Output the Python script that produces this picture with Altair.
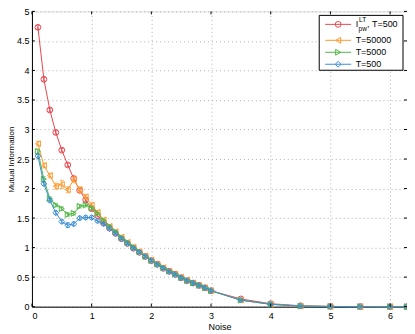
import altair as alt
import pandas as pd

# ---- data ----
noise = [0.1, 0.2, 0.3, 0.4, 0.5, 0.6, 0.7, 0.8, 0.9, 1.0,
         1.1, 1.2, 1.3, 1.4, 1.5, 1.6, 1.7, 1.8, 1.9, 2.0,
         2.1, 2.2, 2.3, 2.4, 2.5, 2.6, 2.7, 2.8, 2.9, 3.0,
         3.5, 4.0, 4.5, 5.0, 5.5, 6.0, 6.28]

mi_pw_lt = [4.73, 3.85, 3.33, 2.95, 2.65, 2.40, 2.17, 1.97, 1.81, 1.66,
            1.54, 1.42, 1.33, 1.24, 1.15, 1.07, 0.99, 0.92, 0.85, 0.78,
            0.72, 0.65, 0.60, 0.55, 0.49, 0.44, 0.40, 0.36, 0.32, 0.27,
            0.13, 0.05, 0.015, 0.004, 0.001, 0.0, 0.0]
mi_50000 = [2.76, 2.39, 2.22, 2.04, 2.07, 1.98, 2.15, 1.98, 1.86, 1.72,
            1.60, 1.47, 1.36, 1.27, 1.18, 1.09, 1.01, 0.93, 0.86, 0.79,
            0.72, 0.66, 0.60, 0.55, 0.50, 0.45, 0.40, 0.36, 0.32, 0.27,
            0.11, 0.04, 0.01, 0.003, 0.001, 0.0, 0.0]
mi_5000 = [2.63, 2.16, 1.83, 1.72, 1.66, 1.56, 1.58, 1.70, 1.72, 1.67,
           1.58, 1.46, 1.36, 1.27, 1.17, 1.09, 1.01, 0.93, 0.85, 0.78,
           0.72, 0.66, 0.60, 0.55, 0.49, 0.44, 0.40, 0.36, 0.32, 0.27,
           0.11, 0.04, 0.01, 0.003, 0.001, 0.0, 0.0]
mi_500 = [2.55, 2.08, 1.80, 1.59, 1.44, 1.38, 1.40, 1.50, 1.51, 1.51,
          1.45, 1.40, 1.32, 1.24, 1.15, 1.07, 0.99, 0.92, 0.85, 0.78,
          0.71, 0.65, 0.59, 0.54, 0.49, 0.44, 0.40, 0.36, 0.32, 0.27,
          0.11, 0.04, 0.01, 0.003, 0.001, 0.0, 0.0]

err_pw_lt = [0.03] * 10 + [0.02] * 20 + [0.01] * 7
err_50000 = [0.04, 0.04, 0.04, 0.05, 0.07, 0.05, 0.05, 0.05, 0.04, 0.04] + [0.03] * 20 + [0.01] * 7
err_5000 = [0.04, 0.04, 0.03, 0.03, 0.03, 0.03, 0.03, 0.03, 0.03, 0.03] + [0.02] * 20 + [0.01] * 7
err_500 = [0.03, 0.03, 0.03, 0.03, 0.03, 0.04, 0.03, 0.03, 0.03, 0.03] + [0.02] * 20 + [0.01] * 7

series_names = ["pw_lt", "T=50000", "T=5000", "T=500"]
series_colors = ["#e8474f", "#ff9a2e", "#52b848", "#3a8fd6"]
series_shapes = ["circle", "triangle-left", "triangle-right", "diamond"]
series_values = [mi_pw_lt, mi_50000, mi_5000, mi_500]
series_errs = [err_pw_lt, err_50000, err_5000, err_500]

x_ticks = [0, 1, 2, 3, 4, 5, 6]
y_ticks = [0, 0.5, 1, 1.5, 2, 2.5, 3, 3.5, 4, 4.5, 5]

rows = []
for name, vals, errs in zip(series_names, series_values, series_errs):
    for xv, yv, ev in zip(noise, vals, errs):
        rows.append({"noise": xv, "mi": yv, "lo": max(yv - ev, 0), "hi": yv + ev, "series": name})
df = pd.DataFrame(rows)

W, H = 376, 296
FONT = "Liberation Sans"

xscale = alt.Scale(domain=[0, 6.283], nice=False, zero=False)
yscale = alt.Scale(domain=[0, 5], nice=False)
cscale = alt.Scale(domain=series_names, range=series_colors)
sscale = alt.Scale(domain=series_names, range=series_shapes)

xaxis = alt.Axis(values=x_ticks, title="Noise", grid=True, gridDash=[1, 3], gridColor="#b0b0b0",
                 tickSize=0, labelPadding=5, labelFontSize=9, titleFontSize=9, titleFontWeight="normal",
                 labelColor="black", titleColor="black", domainColor="black", titleY=16, format="~g",
                 labelOverlap=False, labelFont=FONT, titleFont=FONT)
yaxis = alt.Axis(values=y_ticks, title="Mutual Information", grid=True, gridDash=[1, 3], gridColor="#b0b0b0",
                 tickSize=0, labelPadding=3, labelFontSize=9, titleFontSize=8, titleFontWeight="normal",
                 labelColor="black", titleColor="black", domainColor="black", titleX=-16, format="~g",
                 labelOverlap=False, labelFont=FONT, titleFont=FONT)


def X(field):
    return alt.X(field, scale=xscale, axis=xaxis)


def Y(field):
    return alt.Y(field, scale=yscale, axis=yaxis)


base = alt.Chart(df)
col = alt.Color("series:N", scale=cscale, legend=None)
order = alt.Order("noise:Q")

layers = []
for name in series_names:
    sub = base.transform_filter(alt.datum.series == name)
    layers.append(sub.mark_line(strokeWidth=1).encode(
        x=X("noise:Q"), y=Y("mi:Q"), order=order, color=col))
    layers.append(sub.mark_rule(strokeWidth=1).encode(
        x=X("noise:Q"), y=Y("lo:Q"), y2="hi:Q", color=col))
    layers.append(sub.mark_tick(thickness=1, size=4, orient="horizontal").encode(
        x=X("noise:Q"), y=Y("lo:Q"), color=col))
    layers.append(sub.mark_tick(thickness=1, size=4, orient="horizontal").encode(
        x=X("noise:Q"), y=Y("hi:Q"), color=col))
    layers.append(sub.mark_point(filled=False, size=34, strokeWidth=1, opacity=1).encode(
        x=X("noise:Q"), y=Y("mi:Q"), color=col,
        shape=alt.Shape("series:N", scale=sscale, legend=None)))

# inward axis ticks (box style)
xt = alt.Chart(pd.DataFrame({"t": x_ticks}))
yt = alt.Chart(pd.DataFrame({"t": y_ticks}))
layers.append(xt.mark_rule(color="black", strokeWidth=1).encode(
    x=X("t:Q"), y=alt.value(H), y2=alt.value(H - 3)))
layers.append(xt.mark_rule(color="black", strokeWidth=1).encode(
    x=X("t:Q"), y=alt.value(0), y2=alt.value(3)))
layers.append(yt.mark_rule(color="black", strokeWidth=1).encode(
    y=Y("t:Q"), x=alt.value(0), x2=alt.value(3)))
layers.append(yt.mark_rule(color="black", strokeWidth=1).encode(
    y=Y("t:Q"), x=alt.value(W), x2=alt.value(W - 3)))

# ---- custom legend ----
one = alt.Chart(pd.DataFrame({"a": [0]}))
LX0, LX1, LY0, LY1 = 288, 372, 4, 59
layers.append(one.mark_rect(fill="white", stroke="black", strokeWidth=1).encode(
    x=alt.value(LX0), x2=alt.value(LX1), y=alt.value(LY0), y2=alt.value(LY1)))
row_y = [13, 29, 41, 53]
row_text = [None, "T=50000", "T=5000", "T=500"]
for ry, c, shp, txt in zip(row_y, series_colors, series_shapes, row_text):
    layers.append(one.mark_rule(color=c, strokeWidth=1).encode(
        x=alt.value(294), x2=alt.value(320), y=alt.value(ry)))
    layers.append(one.mark_point(filled=False, size=34, strokeWidth=1, color=c, shape=shp, opacity=1).encode(
        x=alt.value(307), y=alt.value(ry)))
    if txt:
        layers.append(one.mark_text(text=txt, font=FONT, fontSize=9, align="left", baseline="middle",
                                    color="black").encode(x=alt.value(324.5), y=alt.value(ry)))
# first label: I with superscript LT and subscript pw, then ", T=500"
layers.append(one.mark_text(text="I", font=FONT, fontSize=9, align="left", baseline="middle",
                            color="black").encode(x=alt.value(324.5), y=alt.value(row_y[0])))
layers.append(one.mark_text(text="LT", font=FONT, fontSize=6.5, align="left", baseline="middle",
                            color="black").encode(x=alt.value(328), y=alt.value(row_y[0] - 4)))
layers.append(one.mark_text(text="pw", font=FONT, fontSize=6.5, align="left", baseline="middle",
                            color="black").encode(x=alt.value(327.5), y=alt.value(row_y[0] + 5)))
layers.append(one.mark_text(text=", T=500", font=FONT, fontSize=9, align="left", baseline="middle",
                            color="black").encode(x=alt.value(336), y=alt.value(row_y[0])))

chart = alt.layer(*layers).properties(
    width=W, height=H,
    autosize=alt.AutoSizeParams(type="none"),
    padding={"left": 24, "top": 3, "right": 0, "bottom": 25},
).configure_view(stroke="black", strokeWidth=1).configure(background="white")

chart.save("out.html", embed_options={"renderer": "svg", "actions": False})
